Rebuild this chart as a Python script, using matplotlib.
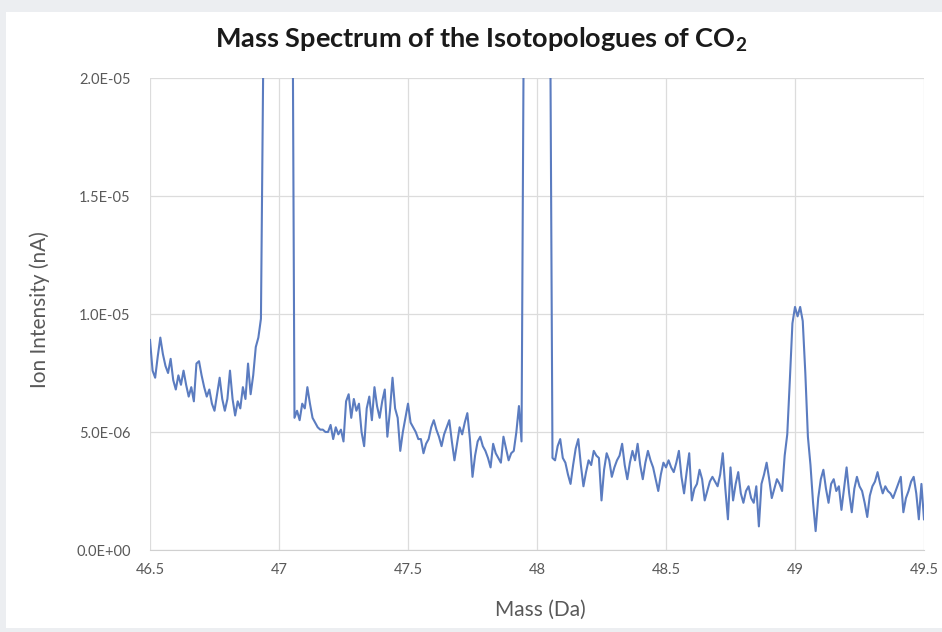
import numpy as np
import matplotlib
matplotlib.use("Agg")
import matplotlib.pyplot as plt
from matplotlib.patches import Rectangle

# Mass axis: 46.50 .. 49.50 Da in 0.01 Da steps
MASS_START = 46.50
MASS_STEP = 0.01

# Ion intensity in units of 1E-06 nA
INTENSITY_46 = [
    8.9, 7.6, 7.3, 8.2, 9.0, 8.3, 7.8, 7.5, 8.1, 7.2,
    6.8, 7.4, 7.0, 7.6, 7.0, 6.5, 6.9, 6.3, 7.9, 8.0,
    7.4, 6.9, 6.5, 6.8, 6.2, 5.9, 6.6, 7.3, 6.4, 5.9,
    6.4, 7.6, 6.4, 5.7, 6.3, 6.0, 6.9, 6.4, 7.9, 6.6,
    7.4, 8.6, 9.0, 9.8,
]
# m/z 47 peak (runs off the top of the chart)
INTENSITY_47_PEAK = [22.0, 60.0, 95.0, 120.0, 135.0, 140.0, 138.0, 125.0, 100.0, 70.0, 45.0, 30.0]
INTENSITY_47 = [
    5.6, 5.9, 5.5, 6.2, 6.0, 6.9, 6.2, 5.6, 5.4, 5.2,
    5.1, 5.1, 5.0, 5.0, 5.3, 4.7, 5.2, 4.9, 5.1, 4.6,
    6.3, 6.6, 5.6, 6.4, 5.9, 6.2, 5.0, 4.4, 6.0, 6.5,
    5.5, 6.9, 6.1, 5.6, 6.3, 6.8, 4.8, 5.9, 7.3, 6.0,
    5.6, 4.2, 5.0, 5.6, 6.2, 5.4, 5.2, 5.0, 4.7, 4.7,
    4.1, 4.5, 4.7, 5.2, 5.5, 5.1, 4.8, 4.4, 4.9, 5.2,
    5.5, 4.6, 3.8, 4.5, 5.2, 4.9, 5.4, 5.8, 4.7, 3.1,
    4.0, 4.6, 4.8, 4.4, 4.2, 3.9, 3.5, 4.5, 4.1, 3.9,
    3.7, 4.8, 4.3, 3.8, 4.1, 4.2, 5.0, 6.1, 4.6,
]
# m/z 48 peak (runs off the top of the chart)
INTENSITY_48_PEAK = [25.0, 70.0, 110.0, 140.0, 155.0, 160.0, 150.0, 130.0, 90.0, 50.0, 25.0]
INTENSITY_48 = [
    3.9, 3.8, 4.4, 4.7, 3.9, 3.7, 3.2, 2.8, 3.6, 4.3,
    4.7, 3.6, 2.7, 3.3, 3.8, 3.6, 4.2, 4.0, 3.9, 2.1,
    3.4, 4.1, 3.8, 3.1, 3.5, 3.8, 4.0, 4.5, 3.6, 3.0,
    3.7, 4.2, 3.8, 4.5, 3.6, 3.0, 3.7, 4.2, 3.8, 3.5,
    3.0, 2.5, 3.2, 3.7, 3.5, 3.8, 3.5, 3.3, 3.7, 4.2,
    3.1, 2.4, 3.3, 4.1, 2.1, 2.6, 2.8, 3.4, 3.0, 2.1,
    2.5, 2.9, 3.1, 2.9, 2.7, 3.2, 4.1, 2.6, 1.3, 3.5,
    2.1, 2.8, 3.3, 2.4, 2.0, 2.5, 2.7, 2.2, 2.0, 2.7,
    1.0, 2.8, 3.2, 3.7, 3.0, 2.2, 2.6, 3.0, 2.8, 2.5,
]
# m/z 49 peak and the tail
INTENSITY_49 = [
    4.0, 4.9, 7.2, 9.6, 10.3, 9.9, 10.3, 9.7, 7.5, 4.8,
    3.6, 2.0, 0.8, 2.2, 3.0, 3.4, 2.6, 2.0, 2.8, 3.0,
    2.5, 2.7, 1.7, 2.6, 3.5, 2.4, 1.6, 2.6, 3.1, 2.7,
    2.5, 2.0, 1.4, 2.3, 2.7, 2.9, 3.3, 2.8, 2.4, 2.7,
    2.5, 2.4, 2.2, 2.5, 2.8, 3.1, 1.6, 2.2, 2.5, 2.9,
    3.1, 2.4, 1.3, 2.8, 1.3,
]

X_TICKS = [46.5, 47, 47.5, 48, 48.5, 49, 49.5]
X_TICK_LABELS = ["46.5", "47", "47.5", "48", "48.5", "49", "49.5"]
Y_TICKS = [0, 5e-06, 1e-05, 1.5e-05, 2e-05]
Y_TICK_LABELS = ["0.0E+00", "5.0E-06", "1.0E-05", "1.5E-05", "2.0E-05"]

intensity = np.array(INTENSITY_46 + INTENSITY_47_PEAK + INTENSITY_47
                     + INTENSITY_48_PEAK + INTENSITY_48 + INTENSITY_49) * 1e-06
mass = MASS_START + MASS_STEP * np.arange(len(intensity))

plt.rcParams["font.family"] = ["Lato", "DejaVu Sans"]
plt.rcParams["mathtext.fontset"] = "custom"
plt.rcParams["mathtext.rm"] = "Lato"
plt.rcParams["mathtext.bf"] = "Lato:bold"

fig = plt.figure(figsize=(9.42, 6.32), dpi=100, facecolor="#eceef1")
# white chart area
fig.patches.append(Rectangle((6 / 942, 1 - 628 / 632), 936 / 942, 616 / 632,
                             transform=fig.transFigure, facecolor="white",
                             edgecolor="none", zorder=-10))

ax = fig.add_axes([150 / 942, 1 - 550 / 632, 774 / 942, 472 / 632])
ax.set_facecolor("white")
ax.plot(mass, intensity, color="#5b7cc0", lw=1.5, zorder=3)

ax.set_xlim(46.5, 49.5)
ax.set_ylim(0, 2e-05)
ax.set_xticks(X_TICKS)
ax.set_xticklabels(X_TICK_LABELS)
ax.set_yticks(Y_TICKS)
ax.set_yticklabels(Y_TICK_LABELS)
ax.tick_params(length=0, labelsize=10.5, labelcolor="#595959")
ax.tick_params(axis="x", pad=9)
ax.tick_params(axis="y", pad=14)
ax.grid(True, color="#dcdcdc", lw=0.9)
ax.set_axisbelow(True)
for side in ["left", "right", "top"]:
    ax.spines[side].set_visible(False)
ax.spines["bottom"].set_color("#d0d0d0")

fig.text(540 / 942, 1 - 610 / 632, "Mass (Da)", ha="center", va="center",
         fontsize=15, color="#595959")
fig.text(40 / 942, 1 - 310 / 632, "Ion Intensity (nA)", ha="center", va="center",
         rotation=90, fontsize=15, color="#595959")

fig.text(481 / 942, 1 - 40 / 632, "Mass Spectrum of the Isotopologues of CO$_\\mathbf{2}$",
         ha="center", va="center", fontsize=19.5, fontweight="bold", color="#1a1a1a")

fig.savefig("out.png", dpi=100, facecolor=fig.get_facecolor())
